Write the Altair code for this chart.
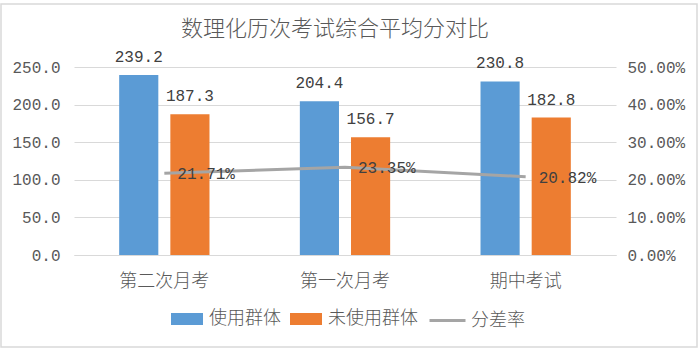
import altair as alt
import pandas as pd

# ---- data ----
categories = ["第二次月考", "第一次月考", "期中考试"]
groups = ["使用群体", "未使用群体"]
used_scores = [239.2, 204.4, 230.8]
unused_scores = [187.3, 156.7, 182.8]
rate_name = "分差率"
diff_rates = [0.2171, 0.2335, 0.2082]
title_text = "数理化历次考试综合平均分对比"

bar_colors = ["#5B9BD5", "#ED7D31"]
line_color = "#A5A5A5"
axis_color = "#595959"
grid_color = "#D9D9D9"
cjk = "Noto Sans CJK SC"
num_font = "Liberation Mono, Noto Sans CJK SC"

rows = []
for c, u, n in zip(categories, used_scores, unused_scores):
    rows.append({"exam": c, "group": groups[0], "score": u})
    rows.append({"exam": c, "group": groups[1], "score": n})
bar_df = pd.DataFrame(rows)
line_df = pd.DataFrame({"exam": categories, "series": rate_name, "rate": diff_rates})
one_df = pd.DataFrame({"t": [title_text]})

x_enc = alt.X(
    "exam:N",
    sort=categories,
    scale=alt.Scale(paddingInner=0, paddingOuter=0),
    axis=alt.Axis(
        title=None, labelAngle=0, ticks=False, domain=True, domainColor=grid_color,
        labelFont=cjk, labelFontSize=18, labelFontWeight=300, labelColor=axis_color,
        labelPadding=17,
    ),
)

base_bar = alt.Chart(bar_df).encode(
    x=x_enc,
    xOffset=alt.XOffset("group:N", sort=groups,
                        scale=alt.Scale(paddingInner=0.235, paddingOuter=0.883)),
    y=alt.Y(
        "score:Q",
        scale=alt.Scale(domain=[0, 250], nice=False),
        axis=alt.Axis(
            title=None, orient="left", values=[0, 50, 100, 150, 200, 250], format=".1f",
            ticks=False, domain=False, grid=True, gridColor=grid_color,
            labelFont=num_font, labelFontSize=16, labelColor=axis_color, labelPadding=14,
        ),
    ),
)

bars = base_bar.mark_bar().encode(
    color=alt.Color(
        "group:N",
        sort=groups,
        scale=alt.Scale(domain=groups, range=bar_colors),
        legend=alt.Legend(
            title=None, orient="none", direction="horizontal", legendX=97, legendY=236,
            symbolType="M-1,-0.375H1V0.375H-1Z", symbolSize=1024, symbolStrokeWidth=0,
            labelFont=cjk, labelFontSize=18, labelFontWeight=300, labelColor=axis_color,
            labelOffset=6, columnPadding=9, padding=0,
        ),
    )
)
bar_labels = base_bar.mark_text(
    baseline="alphabetic", dy=-13, font=num_font, fontSize=16, color="#404040"
).encode(text=alt.Text("score:Q", format=".1f"))

base_line = alt.Chart(line_df).encode(
    x=x_enc,
    y=alt.Y(
        "rate:Q",
        scale=alt.Scale(domain=[0, 0.5], nice=False),
        axis=alt.Axis(
            title=None, orient="right", values=[0, 0.1, 0.2, 0.3, 0.4, 0.5], format=".2%",
            ticks=False, domain=False, grid=False,
            labelFont=num_font, labelFontSize=16, labelColor=axis_color, labelPadding=11,
        ),
    ),
)
line = base_line.mark_line(strokeWidth=3).encode(
    stroke=alt.Stroke(
        "series:N",
        scale=alt.Scale(domain=[rate_name], range=[line_color]),
        legend=alt.Legend(
            title=None, orient="none", direction="horizontal", legendX=354, legendY=234,
            symbolType="stroke", symbolSize=1296, symbolStrokeWidth=3,
            labelFont=cjk, labelFontSize=18, labelFontWeight=300, labelColor=axis_color,
            labelOffset=4, padding=0,
        ),
    )
)
line_labels = base_line.mark_text(
    align="left", baseline="middle", dx=13, dy=1, font=num_font, fontSize=16, color="#404040"
).encode(text=alt.Text("rate:Q", format=".2%"))

border = alt.Chart(one_df).mark_rect(fill=None, stroke=grid_color, strokeWidth=1.5).encode(
    x=alt.value(-73), x2=alt.value(623), y=alt.value(-63), y2=alt.value(280)
)
title = alt.Chart(one_df).mark_text(
    font=cjk, fontSize=22, fontWeight=300, color=axis_color, baseline="middle", align="center"
).encode(text="t:N", x=alt.value(261), y=alt.value(-38))

left = alt.layer(bars, bar_labels)
right = alt.layer(line, line_labels)

chart = (
    alt.layer(left, right, border, title)
    .resolve_scale(y="independent")
    .properties(
        width=542, height=188,
        autosize=alt.AutoSizeParams(type="none"),
        padding={"left": 74, "top": 67, "right": 84, "bottom": 97},
        background="white",
    )
    .configure_view(stroke=None)
)

chart.save("out.html", embed_options={"renderer": "svg", "actions": False})
